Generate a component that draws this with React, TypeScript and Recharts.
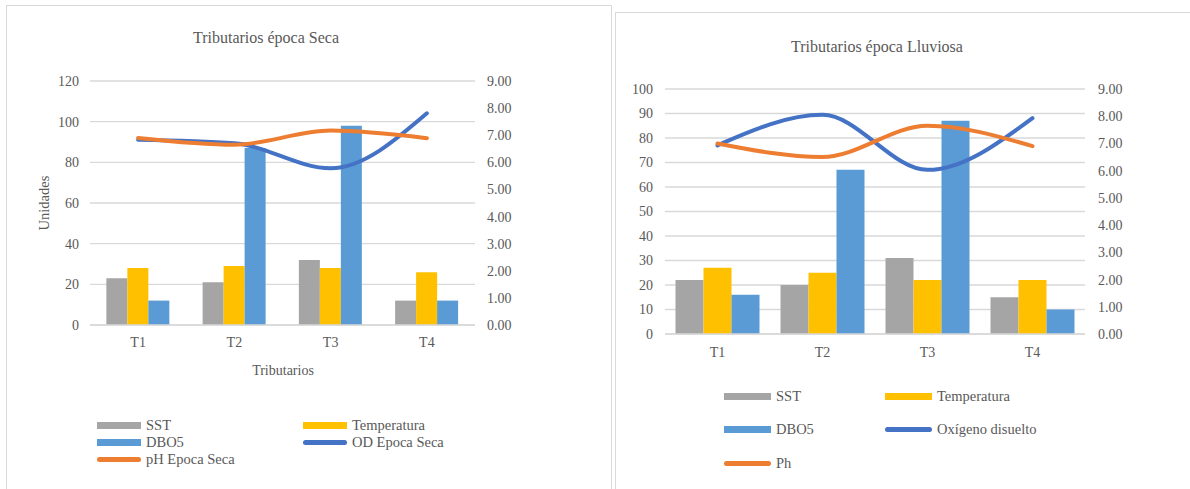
import React from 'react';
import { ComposedChart, Bar, Line, XAxis, YAxis, CartesianGrid } from 'recharts';

const categories = ['T1', 'T2', 'T3', 'T4'];

const secaSST = [23, 21, 32, 12];
const secaTemp = [28, 29, 28, 26];
const secaDBO5 = [12, 87, 98, 12];
const secaOD = [6.83, 6.7, 5.78, 7.81];
const secaPH = [6.9, 6.65, 7.17, 6.89];

const lluvSST = [22, 20, 31, 15];
const lluvTemp = [27, 25, 22, 22];
const lluvDBO5 = [16, 67, 87, 10];
const lluvOD = [6.93, 8.05, 6.03, 7.93];
const lluvPH = [7.0, 6.5, 7.65, 6.9];

const leftTicksSeca = [0, 20, 40, 60, 80, 100, 120];
const leftTicksLluv = [0, 10, 20, 30, 40, 50, 60, 70, 80, 90, 100];
const rightTicks = [0, 1, 2, 3, 4, 5, 6, 7, 8, 9];

const legendSeca = ['SST', 'Temperatura', 'DBO5', 'OD Epoca Seca', 'pH Epoca Seca'];
const legendLluv = ['SST', 'Temperatura', 'DBO5', 'Oxígeno disuelto', 'Ph'];

const C_SST = '#A5A5A5';
const C_TEMP = '#FFC000';
const C_DBO = '#5B9BD5';
const C_OD = '#4472C4';
const C_PH = '#ED7D31';
const TXT = '#595959';
const GRID = '#D9D9D9';
const FONT = "'Liberation Serif', Tinos, 'DejaVu Serif', serif";

const seriesColors = [C_SST, C_TEMP, C_DBO, C_OD, C_PH];
const seriesKinds = ['bar', 'bar', 'bar', 'line', 'line'];

const secaData = categories.map((c, i) => ({
  name: c,
  sst: secaSST[i],
  temp: secaTemp[i],
  dbo: secaDBO5[i],
  od: secaOD[i],
  ph: secaPH[i],
}));

const lluvData = categories.map((c, i) => ({
  name: c,
  sst: lluvSST[i],
  temp: lluvTemp[i],
  dbo: lluvDBO5[i],
  od: lluvOD[i],
  ph: lluvPH[i],
}));

const tickStyle = { fill: TXT, fontSize: 14, fontFamily: FONT, style: { fontFamily: FONT } };

function LegendBlock({ names, cols, rows, swatchW, textGap }: any) {
  return (
    <>
      {names.map((n: string, i: number) => {
        const col = cols[i % 2];
        const row = rows[Math.floor(i / 2)];
        const isLine = seriesKinds[i] === 'line';
        return (
          <div key={n} style={{ position: 'absolute', left: col, top: row - 10, height: 20, display: 'flex', alignItems: 'center' }}>
            <div
              style={{
                width: swatchW,
                height: isLine ? 5 : 7,
                background: seriesColors[i],
                borderRadius: isLine ? 3 : 0,
              }}
            />
            <span style={{ marginLeft: textGap - swatchW, fontFamily: FONT, fontSize: 14.5, color: TXT, whiteSpace: 'nowrap', lineHeight: '20px' }}>{n}</span>
          </div>
        );
      })}
    </>
  );
}

function Chart({ data, width, height, margin, leftWidth, rightWidth, leftDomain, leftTicks, gap, leftMargin, rightMargin, xMargin, names }: any) {
  return (
    <ComposedChart width={width} height={height} data={data} margin={margin} barCategoryGap={gap} barGap={0} style={{ fontFamily: FONT }}>
      <CartesianGrid vertical={false} stroke={GRID} strokeWidth={1.3} yAxisId="l" />
      <XAxis
        dataKey="name"
        axisLine={{ stroke: GRID, strokeWidth: 1.3 }}
        tickLine={false}
        tickSize={0}
        tickMargin={xMargin}
        tick={tickStyle}
        height={30}
      />
      <YAxis
        yAxisId="l"
        domain={leftDomain}
        ticks={leftTicks}
        width={leftWidth}
        axisLine={false}
        tickLine={false}
        tickSize={0}
        tickMargin={leftMargin}
        tick={tickStyle}
        interval={0}
      />
      <YAxis
        yAxisId="r"
        orientation="right"
        domain={[0, 9]}
        ticks={rightTicks}
        width={rightWidth}
        axisLine={false}
        tickLine={false}
        tickSize={0}
        tickMargin={rightMargin}
        tick={tickStyle}
        interval={0}
        tickFormatter={(v: number) => v.toFixed(2)}
      />
      <Bar yAxisId="l" dataKey="sst" name={names[0]} fill={C_SST} isAnimationActive={false} />
      <Bar yAxisId="l" dataKey="temp" name={names[1]} fill={C_TEMP} isAnimationActive={false} />
      <Bar yAxisId="l" dataKey="dbo" name={names[2]} fill={C_DBO} isAnimationActive={false} />
      <Line yAxisId="r" type="monotone" dataKey="od" name={names[3]} stroke={C_OD} strokeWidth={4} strokeLinecap="round" dot={false} isAnimationActive={false} />
      <Line yAxisId="r" type="monotone" dataKey="ph" name={names[4]} stroke={C_PH} strokeWidth={4} strokeLinecap="round" dot={false} isAnimationActive={false} />
    </ComposedChart>
  );
}

export default function App() {
  return (
    <div style={{ position: 'fixed', left: 0, top: 0, width: 1190, height: 489, background: '#fff', overflow: 'hidden', fontFamily: FONT }}>
      <div style={{ position: 'absolute', left: 6, top: 5, width: 606, height: 520, border: `1.5px solid ${GRID}`, boxSizing: 'border-box' }} />
      <div style={{ position: 'absolute', left: 615, top: 12, width: 620, height: 520, border: `1.5px solid ${GRID}`, boxSizing: 'border-box' }} />

      <div style={{ position: 'absolute', left: 0, top: 0 }}>
        <Chart
          data={secaData}
          width={612}
          height={489}
          margin={{ top: 81, right: 0, left: 0, bottom: 134 }}
          leftWidth={90}
          rightWidth={137}
          leftDomain={[0, 120]}
          leftTicks={leftTicksSeca}
          gap="17%"
          leftMargin={11}
          rightMargin={12}
          xMargin={12}
          names={legendSeca}
        />
      </div>
      <div style={{ position: 'absolute', left: 116, top: 28, width: 300, textAlign: 'center', fontSize: 16, lineHeight: '20px', color: TXT }}>
        Tributarios época Seca
      </div>
      <div style={{ position: 'absolute', left: 183, top: 361, width: 200, textAlign: 'center', fontSize: 14, lineHeight: '20px', color: TXT }}>
        Tributarios
      </div>
      <div style={{ position: 'absolute', left: -6, top: 193, width: 100, height: 20, textAlign: 'center', fontSize: 14.5, lineHeight: '20px', color: TXT, transform: 'rotate(-90deg)' }}>
        Unidades
      </div>
      <LegendBlock names={legendSeca} cols={[97, 303]} rows={[425, 442, 459]} swatchW={44} textGap={49} />

      <div style={{ position: 'absolute', left: 616, top: 0 }}>
        <Chart
          data={lluvData}
          width={574}
          height={489}
          margin={{ top: 89, right: 0, left: 0, bottom: 125 }}
          leftWidth={49}
          rightWidth={105}
          leftDomain={[0, 100]}
          leftTicks={leftTicksLluv}
          gap="10%"
          leftMargin={12}
          rightMargin={13}
          xMargin={13}
          names={legendLluv}
        />
      </div>
      <div style={{ position: 'absolute', left: 727, top: 37, width: 300, textAlign: 'center', fontSize: 16, lineHeight: '20px', color: TXT }}>
        Tributarios época Lluviosa
      </div>
      <LegendBlock names={legendLluv} cols={[724, 885]} rows={[396, 429, 463]} swatchW={47} textGap={52} />
    </div>
  );
}
